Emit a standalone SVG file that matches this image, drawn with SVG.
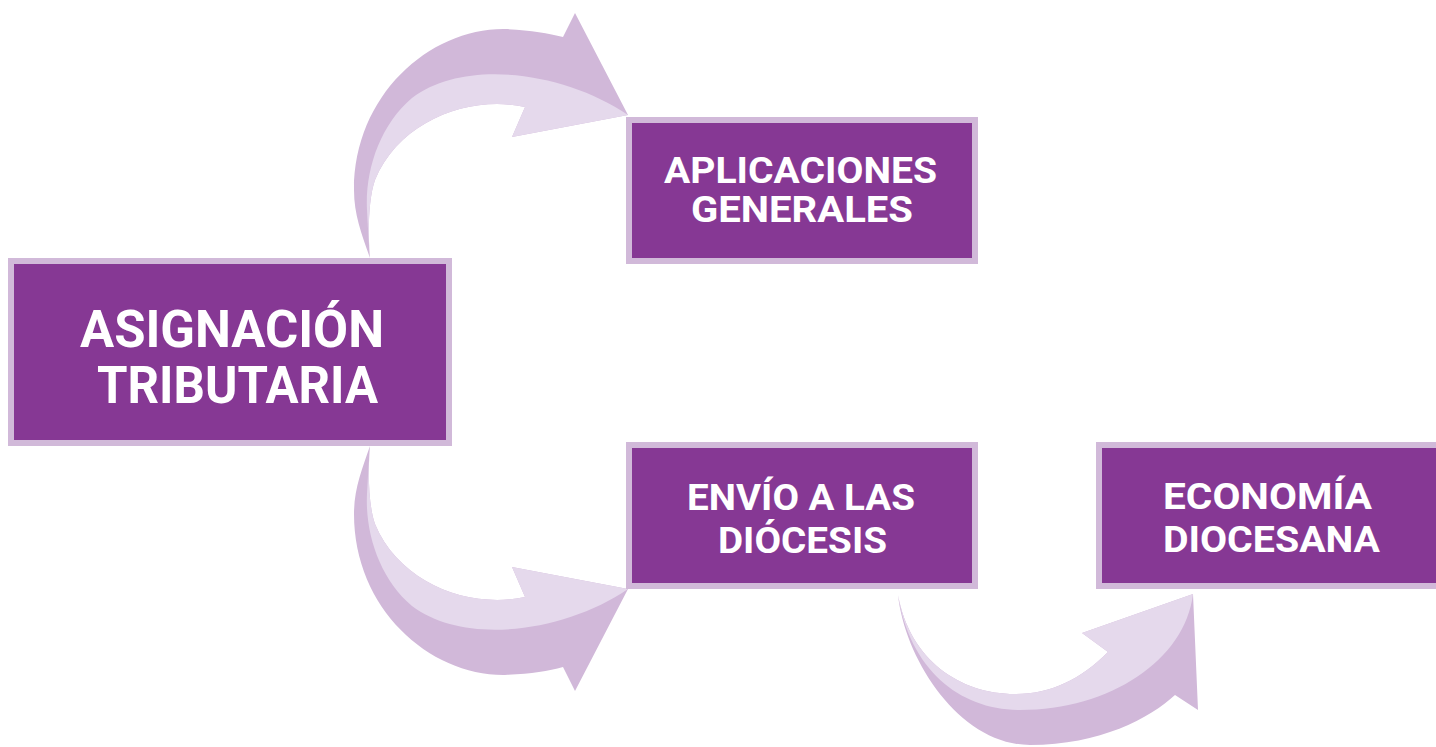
<svg xmlns="http://www.w3.org/2000/svg" width="1436" height="747" viewBox="0 0 1436 747">
<style>
.box{fill:#863894;stroke:#d1b9d9;stroke-width:6}
.t{fill:#ffffff;font-family:Roboto,"Liberation Sans",sans-serif;font-weight:700;text-anchor:middle}
.dk{fill:#d1b8d9}
.lt{fill:#e5d9ec}
</style>
<rect width="1436" height="747" fill="#ffffff"/>
<g id="connectors">
  <g id="arrow-top">
    <path class="dk" d="M370,258 C362,235 354,215 354,190 C354,95 430,28 505,29 C530,30 548,33 563,37 L575,13 L628,115 L512,137 L525,107 C470,95 400,120 375,180 C368,200 368,235 370,258 Z"/>
    <path class="lt" d="M628,115 C565,72 465,58 412,98 C380,125 365,170 367,210 C368,230 369,245 370,258 C368,235 368,200 375,180 C400,120 470,95 525,107 L512,137 Z"/>
  </g>
  <g id="arrow-bottom" transform="matrix(1 0 0 -1 0 704)">
    <path class="dk" d="M370,258 C362,235 354,215 354,190 C354,95 430,28 505,29 C530,30 548,33 563,37 L575,13 L628,115 L512,137 L525,107 C470,95 400,120 375,180 C368,200 368,235 370,258 Z"/>
    <path class="lt" d="M628,115 C565,72 465,58 412,98 C380,125 365,170 367,210 C368,230 369,245 370,258 C368,235 368,200 375,180 C400,120 470,95 525,107 L512,137 Z"/>
  </g>
  <g id="arrow-right">
    <path class="dk" d="M898,595 C905,660 960,745 1030,745 C1100,745 1150,718 1175,695 L1198,710 L1193,594 L1082,633 L1108,652 C1080,680 1050,694 1015,694 C960,694 910,660 898,595 Z"/>
    <path class="lt" d="M1193,594 C1185,660 1110,710 1020,710 C960,710 910,670 898,595 C910,660 960,694 1015,694 C1050,694 1080,680 1108,652 L1082,633 Z"/>
  </g>
</g>
<g id="node-asignacion">
  <rect class="box" x="11" y="261" width="438" height="182"/>
  <text class="t" font-size="52"><tspan x="232" y="347" textLength="304" lengthAdjust="spacingAndGlyphs">ASIGNACIÓN</tspan><tspan x="237.5" y="403" textLength="281" lengthAdjust="spacingAndGlyphs">TRIBUTARIA</tspan></text>
</g>
<g id="node-aplicaciones">
  <rect class="box" x="629" y="120" width="346" height="141"/>
  <text class="t" font-size="37"><tspan x="800.5" y="183" textLength="273" lengthAdjust="spacingAndGlyphs">APLICACIONES</tspan><tspan x="802" y="222" textLength="222" lengthAdjust="spacingAndGlyphs">GENERALES</tspan></text>
</g>
<g id="node-envio">
  <rect class="box" x="629" y="445" width="346" height="141"/>
  <text class="t" font-size="36"><tspan x="801" y="510" textLength="228" lengthAdjust="spacingAndGlyphs">ENVÍO A LAS</tspan><tspan x="802.5" y="553" textLength="169" lengthAdjust="spacingAndGlyphs">DIÓCESIS</tspan></text>
</g>
<g id="node-economia">
  <rect class="box" x="1099" y="445" width="346" height="141"/>
  <text class="t" font-size="36"><tspan x="1267.5" y="509" textLength="209" lengthAdjust="spacingAndGlyphs">ECONOMÍA</tspan><tspan x="1271.5" y="552" textLength="217" lengthAdjust="spacingAndGlyphs">DIOCESANA</tspan></text>
</g>
</svg>
